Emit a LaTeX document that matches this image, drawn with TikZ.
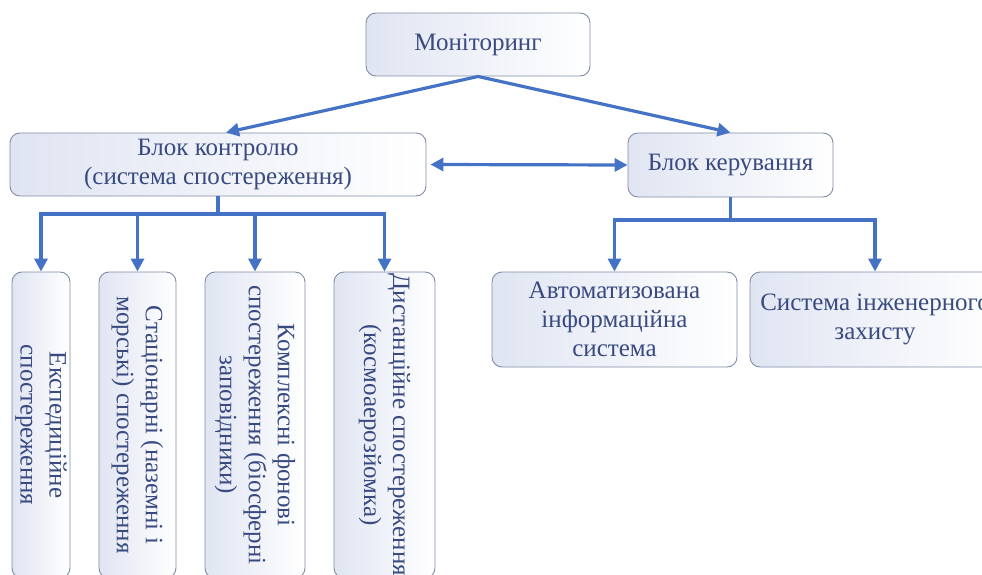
\documentclass[tikz,border=0pt]{standalone}
\usepackage{fontspec}
\setmainfont{Liberation Serif}
\newfontfamily\tnr{Liberation Serif}
\usetikzlibrary{arrows.meta}
\definecolor{txt}{RGB}{56,74,128}
\definecolor{boxborder}{RGB}{128,140,166}
\definecolor{boxshade}{RGB}{224,229,242}
\definecolor{arrowblue}{RGB}{68,114,196}
\tikzset{
  box/.style={draw=boxborder, line width=0.9pt, rounded corners=10pt,
    left color=boxshade, right color=white, text=txt, align=center,
    inner sep=0pt, font=\tnr\fontsize{25}{29}\selectfont},
  vbox/.style={box, rotate=-90},
  conn/.style={draw=arrowblue, line width=3.2pt},
  hconn/.style={conn, line cap=rect},
  arr/.style={conn, -{Triangle[length=13pt,width=13pt]}},
  darr/.style={conn, {Triangle[length=13pt,width=13pt]}-{Triangle[length=13pt,width=13pt]}}
}
\begin{document}
\begin{tikzpicture}[x=1pt,y=-1pt]
\useasboundingbox (0,0) rectangle (982,575);
% top
\node[box, minimum width=224pt, minimum height=63pt] (mon) at (478,44.5) {Моніторинг};
\node[box, minimum width=416pt, minimum height=63pt] (ctl) at (218,164.5) {Блок контролю\\(система спостереження)};
\node[box, minimum width=205pt, minimum height=64pt] (ker) at (730.5,165) {Блок керування};
% left vertical boxes
\node[vbox, minimum width=306pt, minimum height=58pt] (b1) at (41,425) {Експедиційне\\спостереження};
\node[vbox, minimum width=306pt, minimum height=77pt] (b2) at (137.5,425) {Стаціонарні (наземні і\\морські) спостереження};
\node[vbox, minimum width=306pt, minimum height=100pt] (b3) at (255,425) {Комплексні фонові\\спостереження (біосферні\\заповідники)};
\node[vbox, minimum width=306pt, minimum height=101pt] (b4) at (384.5,425) {Дистанційне спостереження\\(космоаерозйомка)};
% right boxes
\node[box, minimum width=245pt, minimum height=95pt] (a1) at (614.5,319.5) {Автоматизована\\інформаційна\\система};
\node[box, minimum width=250pt, minimum height=95pt] (a2) at (875,319.5) {Система інженерного\\захисту};
% connectors
\draw[arr] (mon.south) -- ([xshift=8pt]ctl.north);
\draw[arr] (mon.south) -- (ker.north);
\draw[darr] ([xshift=4pt]ctl.east) -- (ker.west);
\coordinate (jl) at (218,214);
\draw[conn] (ctl.south) -- (jl);
\draw[hconn] (b1.west |- jl) -- (b4.west |- jl);
\foreach \b in {b1,b2,b3,b4} \draw[arr] (\b.west |- jl) -- (\b.west);
\coordinate (jr) at (730.5,220);
\draw[conn] (ker.south) -- (jr);
\draw[hconn] (a1.north |- jr) -- (a2.north |- jr);
\foreach \b in {a1,a2} \draw[arr] (\b.north |- jr) -- (\b.north);
\end{tikzpicture}
\end{document}
